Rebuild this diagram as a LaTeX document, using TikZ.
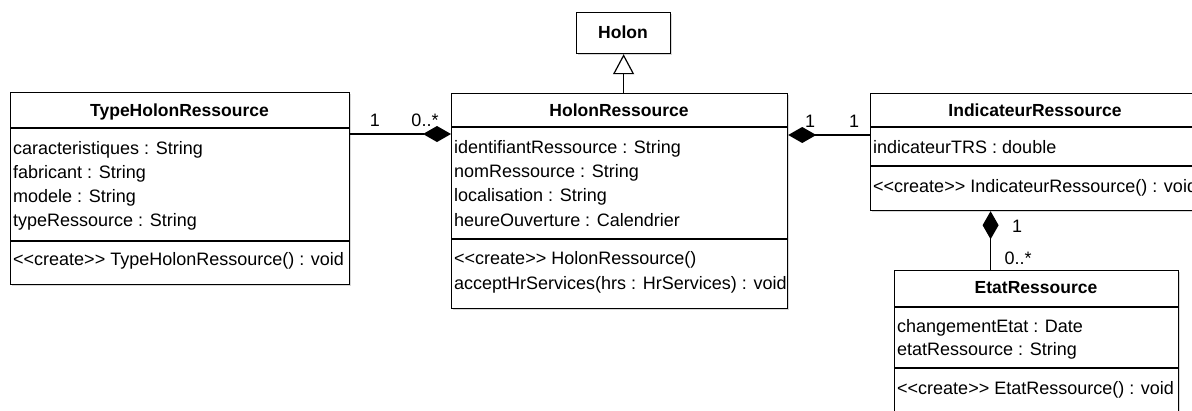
\documentclass[tikz,border=0pt]{standalone}
\usepackage{fontspec}
\setmainfont{Liberation Sans}
\usetikzlibrary{arrows.meta,positioning,shadows}
\newcommand{\umlcreate}{<\kern0pt<create>\kern0pt>}
\tikzset{
  classbox/.style={
    draw, line width=1.2pt, fill=white, anchor=north west, inner sep=0pt,
    drop shadow={shadow xshift=1.5pt, shadow yshift=-1.5pt, opacity=0.3}
  },
  classname/.style={anchor=base, inner sep=0pt, font=\fontsize{17.5}{21}\selectfont\bfseries},
  member/.style={anchor=base west, inner sep=0pt},
  mult/.style={inner sep=0pt},
  sepline/.style={line width=1.2pt},
  comp/.style={line width=1.2pt, {Diamond[length=28pt,width=16pt]}-},
  inherit/.style={line width=1.2pt, -{Triangle[open,length=20pt,width=21pt]}},
}

\begin{document}
\begin{tikzpicture}[x=1pt, y=-1pt, font=\fontsize{18}{22}\selectfont]
    \clip (0,0) rectangle (1192,410);
    \fill[white] (0,0) rectangle (1192,410);

    % class frames
    \node[classbox, minimum width=94pt,  minimum height=41pt]  (holon)  at (576,12)  {};
    \node[classbox, minimum width=339pt, minimum height=192pt] (type)   at (10,92)   {};
    \node[classbox, minimum width=336pt, minimum height=215pt] (holres) at (451,93)  {};
    \node[classbox, minimum width=330pt, minimum height=117pt] (indic)  at (870,93)  {};
    \node[classbox, minimum width=284pt, minimum height=160pt] (etat)   at (894,270) {};

    % compartments
    \draw[sepline] ([yshift=-36pt]type.north west) -- ([yshift=-36pt]type.north east);
    \draw[sepline] ([yshift=-149pt]type.north west) -- ([yshift=-149pt]type.north east);
    \draw[sepline] ([yshift=-34pt]holres.north west) -- ([yshift=-34pt]holres.north east);
    \draw[sepline] ([yshift=-146pt]holres.north west) -- ([yshift=-146pt]holres.north east);
    \draw[sepline] ([yshift=-34pt]indic.north west) -- ([yshift=-34pt]indic.north east);
    \draw[sepline] ([yshift=-73pt]indic.north west) -- ([yshift=-73pt]indic.north east);
    \draw[sepline] ([yshift=-37pt]etat.north west) -- ([yshift=-37pt]etat.north east);
    \draw[sepline] ([yshift=-98pt]etat.north west) -- ([yshift=-98pt]etat.north east);

    % Holon
    \node[classname] (holonT) at (623,38) {Holon};

    % TypeHolonRessource
    \node[classname] (typeT) at (179.5,116) {TypeHolonRessource};
    \node[member] (typeA1) at (13,154) {caracteristiques : String};
    \node[member] (typeA2) at (13,178) {fabricant : String};
    \node[member] (typeA3) at (13,202) {modele : String};
    \node[member] (typeA4) at (13,226) {typeRessource : String};
    \node[member] (typeM1) at (13,265) {\umlcreate{} TypeHolonRessource() : void};

    % HolonRessource
    \node[classname] (holresT) at (619,116) {HolonRessource};
    \node[member] (holresA1) at (454,153) {identifiantRessource : String};
    \node[member] (holresA2) at (454,177) {nomRessource : String};
    \node[member] (holresA3) at (454,201) {localisation : String};
    \node[member] (holresA4) at (454,226) {heureOuverture : Calendrier};
    \node[member] (holresM1) at (454,264) {\umlcreate{} HolonRessource()};
    \node[member] (holresM2) at (454,289) {acceptHrServices(hrs : HrServices) : void};

    % IndicateurRessource
    \node[classname] (indicT) at (1035,116) {IndicateurRessource};
    \node[member] (indicA1) at (873,153) {indicateurTRS : double};
    \node[member] (indicM1) at (873,192) {\umlcreate{} IndicateurRessource() : void};

    % EtatRessource
    \node[classname] (etatT) at (1036,293) {EtatRessource};
    \node[member] (etatA1) at (897,332) {changementEtat : Date};
    \node[member] (etatA2) at (897,355) {etatRessource : String};
    \node[member] (etatM1) at (897,394) {\umlcreate{} EtatRessource() : void};

    % relations
    \draw[inherit] (holres.north -| holon.south) -- (holon.south);
    \draw[comp] ([yshift=-41pt]holres.north west) -- ([yshift=-42pt]type.north east);
    \draw[comp] ([yshift=-42pt]holres.north east) -- ([yshift=-42pt]indic.north west);
    \draw[comp] ([xshift=-45pt]indic.south) -- ([xshift=-46pt]etat.north);

    % multiplicities
    \node[mult] (m1) at (375,120) {1};
    \node[mult] (m2) at (425,120) {0..*};
    \node[mult] (m3) at (810,121) {1};
    \node[mult] (m4) at (854,121) {1};
    \node[mult] (m5) at (1017,226) {1};
    \node[mult] (m6) at (1018,258) {0..*};
\end{tikzpicture}
\end{document}
